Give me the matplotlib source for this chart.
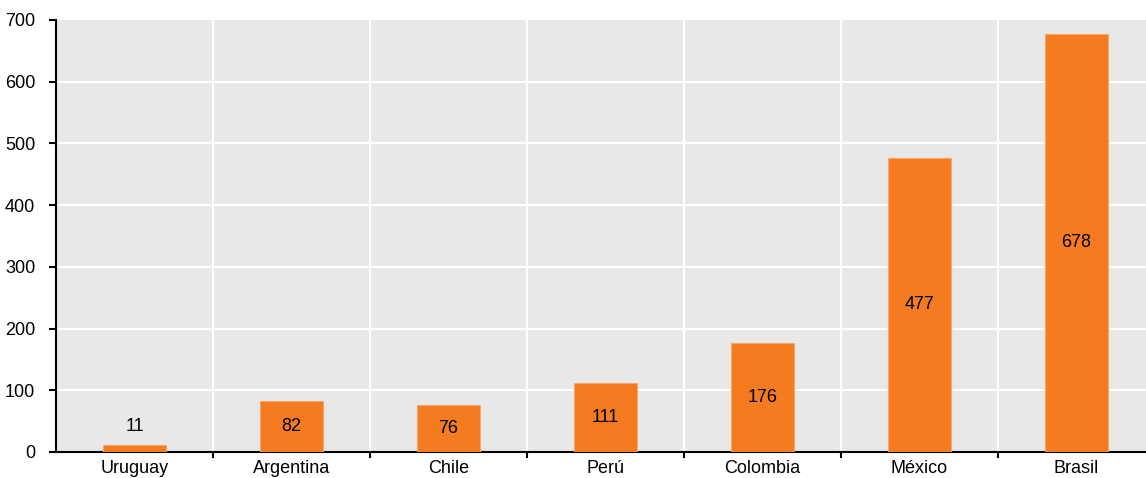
import numpy as np
import matplotlib.pyplot as plt

countries = ["Uruguay", "Argentina", "Chile", "Perú", "Colombia", "México", "Brasil"]
values = [11, 82, 76, 111, 176, 477, 678]
yticks = [0, 100, 200, 300, 400, 500, 600, 700]

plt.rcParams["font.family"] = ["Liberation Sans", "DejaVu Sans"]

fig = plt.figure(figsize=(11.46, 4.78), dpi=100)
# the plot area runs a little past the right edge of the picture
ax = fig.add_axes([56 / 1146, 1 - 452 / 478, (1155 - 56) / 1146, (452 - 20) / 478])
ax.set_facecolor("#e8e8e8")

x = np.arange(len(countries))
ax.bar(x, values, width=0.4, color="#f47b20", edgecolor="#f9a66c", linewidth=0.8, zorder=3)

for xi, v in zip(x, values):
    if v < 40:
        ax.text(xi, v + 17, str(v), ha="center", va="bottom", fontsize=13, zorder=4)
    else:
        ax.text(xi, v / 2, str(v), ha="center", va="center", fontsize=13, zorder=4)

ax.set_xlim(-0.5, len(countries) - 0.5)
ax.set_ylim(0, 700)
ax.set_yticks(yticks)
ax.set_yticklabels([str(t) for t in yticks], fontsize=13)

ax.set_xticks(x)
ax.set_xticklabels(countries, fontsize=13)
ax.tick_params(axis="x", which="major", length=0, pad=6)
ax.set_xticks(np.arange(len(countries) - 1) + 0.5, minor=True)
ax.tick_params(axis="x", which="minor", length=4, width=1.5, direction="out")
ax.tick_params(axis="y", length=5, width=1.5, direction="out", pad=10)

for yv in yticks[1:-1]:
    ax.axhline(yv, color="white", lw=1.5, zorder=1)
for xv in np.arange(len(countries) - 1) + 0.5:
    ax.axvline(xv, color="white", lw=1.5, zorder=1)

for s in ["top", "right"]:
    ax.spines[s].set_visible(False)
ax.spines["left"].set_linewidth(1.5)
ax.spines["bottom"].set_linewidth(1.5)

fig.savefig("out.png", dpi=100)
